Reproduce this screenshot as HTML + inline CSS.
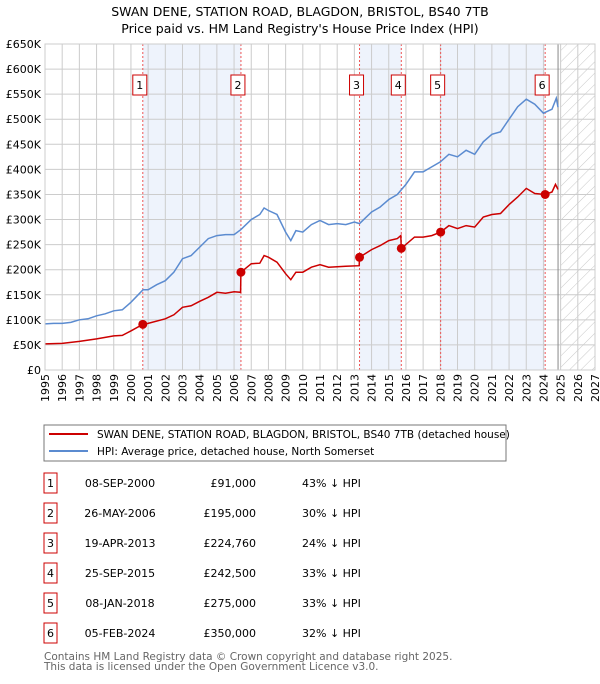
<!DOCTYPE html>
<html><head><meta charset="utf-8">
<style>
body{margin:0;background:#fff;font-family:"DejaVu Sans","Liberation Sans",sans-serif;}
svg text{font-family:"DejaVu Sans","Liberation Sans",sans-serif;}
</style></head>
<body>
<svg id="c" width="600" height="680" xmlns="http://www.w3.org/2000/svg">
<defs>
<pattern id="hatch" width="8" height="8" patternUnits="userSpaceOnUse" patternTransform="rotate(45)">
<line x1="0" y1="0" x2="0" y2="8" stroke="#c8c8c8" stroke-width="1"/>
</pattern>
</defs>
<text x="300" y="16" text-anchor="middle" font-size="12.5" fill="#000">SWAN DENE, STATION ROAD, BLAGDON, BRISTOL, BS40 7TB</text>
<text x="300" y="33" text-anchor="middle" font-size="12.5" fill="#000">Price paid vs. HM Land Registry's House Price Index (HPI)</text>
<g id="plot"></g>
<rect x="44" y="425" width="462" height="36" fill="#fff" stroke="#777"/>
<line x1="49" y1="434" x2="88" y2="434" stroke="#cc0000" stroke-width="2"/>
<text x="97" y="438" font-size="10.5">SWAN DENE, STATION ROAD, BLAGDON, BRISTOL, BS40 7TB (detached house)</text>
<line x1="49" y1="451" x2="88" y2="451" stroke="#5b8bd0" stroke-width="2"/>
<text x="97" y="455" font-size="10.5">HPI: Average price, detached house, North Somerset</text>
<g id="table"></g>
<text x="44" y="660" font-size="10.5" fill="#666">Contains HM Land Registry data © Crown copyright and database right 2025.</text>
<text x="44" y="670" font-size="10.5" fill="#666">This data is licensed under the Open Government Licence v3.0.</text>
</svg>
<script>
const hpiDates=[1995,1995.5,1996,1996.5,1997,1997.5,1998,1998.5,1999,1999.5,2000,2000.7,2001,2001.5,2002,2002.5,2003,2003.5,2004,2004.5,2005,2005.5,2006,2006.4,2007,2007.5,2007.75,2008,2008.5,2009,2009.3,2009.6,2010,2010.5,2011,2011.5,2012,2012.5,2013,2013.3,2014,2014.5,2015,2015.5,2016,2016.5,2017,2017.5,2018,2018.5,2019,2019.5,2020,2020.5,2021,2021.5,2022,2022.5,2023,2023.5,2024,2024.5,2024.75,2024.85];
const hpiValues=[92,93,93,95,100,102,108,112,118,120,135,160,160,170,178,195,222,228,245,262,268,270,270,280,300,310,323,318,310,275,258,278,275,290,298,290,292,290,295,292,315,325,340,350,370,395,395,405,415,430,425,438,430,455,470,475,500,525,540,530,512,520,542,524];
const redDates=[1995,1996,1997,1998,1999,1999.5,2000,2000.69,2001,2002,2002.5,2003,2003.5,2004,2004.5,2005,2005.5,2006,2006.38,2006.4,2007,2007.5,2007.75,2008,2008.5,2009,2009.3,2009.6,2010,2010.5,2011,2011.5,2012,2012.5,2013.28,2013.3,2014,2014.5,2015,2015.5,2015.7,2015.73,2016.5,2017,2017.5,2018.02,2018.5,2019,2019.5,2020,2020.5,2021,2021.5,2022,2022.5,2023,2023.5,2024.1,2024.5,2024.7,2024.85];
const redValues=[52,53,57,62,68,69,78,91,93,102,110,125,128,137,145,155,153,156,155,195,212,213,228,225,215,192,180,195,195,205,210,205,206,207,208,224.76,240,248,258,262,268,242.5,265,265,268,275,288,282,288,285,305,310,312,330,345,362,352,350,355,370,360];
const saleDates=[2000.69,2006.4,2013.3,2015.73,2018.02,2024.1];
const salePrices=[91,195,224.76,242.5,275,350];
const saleLabels=["1","2","3","4","5","6"];
const saleDateText=["08-SEP-2000","26-MAY-2006","19-APR-2013","25-SEP-2015","08-JAN-2018","05-FEB-2024"];
const salePriceText=["£91,000","£195,000","£224,760","£242,500","£275,000","£350,000"];
const salePctText=["43% ↓ HPI","30% ↓ HPI","24% ↓ HPI","33% ↓ HPI","33% ↓ HPI","32% ↓ HPI"];
const yTicks=[0,50,100,150,200,250,300,350,400,450,500,550,600,650];
const yTickLabels=["£0","£50K","£100K","£150K","£200K","£250K","£300K","£350K","£400K","£450K","£500K","£550K","£600K","£650K"];
const xTicks=[1995,1996,1997,1998,1999,2000,2001,2002,2003,2004,2005,2006,2007,2008,2009,2010,2011,2012,2013,2014,2015,2016,2017,2018,2019,2020,2021,2022,2023,2024,2025,2026,2027];

const X0=45,X1=595,Y0=370,Y1=44;
const xs=t=>X0+(t-1995)/(2027-1995)*(X1-X0);
const ys=v=>Y0-v/650*(Y0-Y1);
const NS="http://www.w3.org/2000/svg";
const plot=document.getElementById('plot');
function mk(tag,attrs,parent){const e=document.createElementNS(NS,tag);for(const k in attrs)e.setAttribute(k,attrs[k]);(parent||plot).appendChild(e);return e;}

for(let i=0;i<6;i+=2){
  const r=mk('rect',{x:xs(saleDates[i]),y:Y1,width:xs(saleDates[i+1])-xs(saleDates[i]),height:Y0-Y1,fill:'#eef3fc'});
  
  
}
const h=mk('rect',{x:xs(2025),y:Y1,width:X1-xs(2025),height:Y0-Y1,fill:'url(#hatch)'});


xTicks.forEach(t=>{
  const l=mk('line',{x1:xs(t),x2:xs(t),y1:Y1,y2:Y0,stroke:'#cccccc','stroke-width':1});
  
  
  const tx=mk('text',{x:0,y:0,'font-size':11,'text-anchor':'end',transform:`translate(${xs(t)+4},${Y0+4}) rotate(-90)`});
  tx.textContent=t;
  
  
});
yTicks.forEach((v,i)=>{
  const l=mk('line',{x1:X0,x2:X1,y1:ys(v),y2:ys(v),stroke:'#cccccc','stroke-width':1});
  
  
  const tx=mk('text',{x:41,y:ys(v)+4,'font-size':11,'text-anchor':'end'});
  tx.textContent=yTickLabels[i];
  
  
});
const nl=mk('line',{x1:xs(2024.85),x2:xs(2024.85),y1:Y1,y2:Y0,stroke:'#888','stroke-width':1});


saleDates.forEach((d,i)=>{
  const l=mk('line',{x1:xs(d),x2:xs(d),y1:Y1,y2:Y0,stroke:'#ee5555','stroke-width':1,'stroke-dasharray':'2,2'});
  
  
  const b=mk('rect',{x:xs(d)-10,y:75,width:14,height:20,fill:'#fff',stroke:'#cc0000'});
  
  
  const t=mk('text',{x:xs(d)-3,y:89,'font-size':11,'text-anchor':'middle'});
  t.textContent=saleLabels[i];
  
  
});
function pathOf(d,v){return d.map((t,i)=>(i?'L':'M')+xs(t).toFixed(1)+','+ys(v[i]).toFixed(1)).join('');}
const hp=mk('path',{d:pathOf(hpiDates,hpiValues),fill:'none',stroke:'#5b8bd0','stroke-width':1.5});


const rp=mk('path',{d:pathOf(redDates,redValues),fill:'none',stroke:'#cc0000','stroke-width':1.5});


saleDates.forEach((d,i)=>{
  const c=mk('circle',{cx:xs(d),cy:ys(salePrices[i]),r:4.5,fill:'#cc0000'});
  
  
});
const fr=mk('rect',{x:X0,y:Y1,width:X1-X0,height:Y0-Y1,fill:'none',stroke:'#cccccc'});


const tb=document.getElementById('table');
saleLabels.forEach((s,i)=>{
  const cy=483+i*30;
  const b=mk('rect',{x:44,y:cy-10,width:13,height:20,fill:'#fff',stroke:'#cc0000'},tb);
  
  
  const t=mk('text',{x:50.5,y:cy+4,'font-size':11,'text-anchor':'middle'},tb);
  t.textContent=s;
  
  
  const d=mk('text',{x:120,y:cy+4,'font-size':11,'text-anchor':'middle'},tb);
  d.textContent=saleDateText[i];
  
  
  const p=mk('text',{x:256,y:cy+4,'font-size':11,'text-anchor':'end'},tb);
  p.textContent=salePriceText[i];
  
  
  const q=mk('text',{x:302,y:cy+4,'font-size':11},tb);
  q.textContent=salePctText[i];
  
  
});
</script>
</body></html>
